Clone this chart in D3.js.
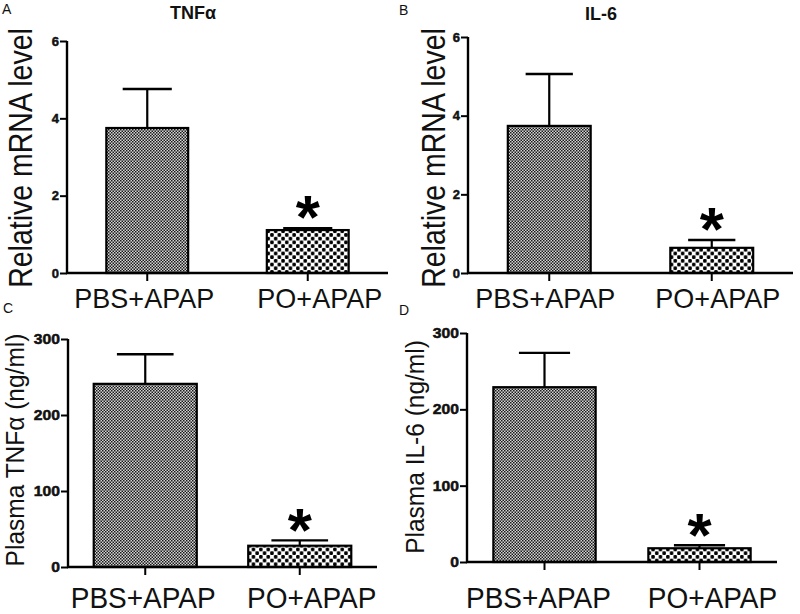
<!DOCTYPE html>
<html>
<head>
<meta charset="utf-8">
<script src="https://cdn.jsdelivr.net/npm/d3@7"></script>
<style>
  html, body { margin: 0; padding: 0; background: #fff; }
  svg { display: block; }
  text { font-family: "Liberation Sans", Arial, sans-serif; fill: #111; }
  text.ticklab { font-weight: 700; fill: #111; stroke: #111; stroke-width: 0.5px; }
</style>
</head>
<body>
<script>
// ---------- DATA ----------
const categories = ["PBS+APAP", "PO+APAP"];
const tnfMrna = [3.75, 1.11];
const tnfMrnaErr = [1.01, 0.05];
const il6Mrna = [3.74, 0.64];
const il6MrnaErr = [1.32, 0.20];
const tnfPlasma = [241, 28];
const tnfPlasmaErr = [39, 7];
const il6Plasma = [229, 18];
const il6PlasmaErr = [45, 4];
const mrnaTicks = [0, 2, 4, 6];
const plasmaTicks = [0, 100, 200, 300];
const significant = [false, true];
const panelLetters = ["A", "B", "C", "D"];
const panelTitles = ["TNFα", "IL-6", "", ""];
const yLabels = ["Relative mRNA level", "Relative mRNA level", "Plasma TNFα (ng/ml)", "Plasma IL-6 (ng/ml)"];

// ---------- LAYOUT ----------
const W = 800, H = 614;
const layouts = [
  { x0: 67, x1: 388, yTop: 41, yBot: 273, pad: 0.49, cap: 0.6, max: 6, ticks: mrnaTicks,
    letter: [2, 14], title: [193, 19], ylab: [32, 158, 28.5, 1.14], xlabY: 308, xlabF: 27, xlabSY: 1.02,
    xlabDx: [-3, 12], tickF: 13, tickSX: 1.0 },
  { x0: 468, x1: 793, yTop: 37, yBot: 273, pad: 0.49, cap: 0.57, max: 6, ticks: mrnaTicks,
    letter: [399, 15], title: [601, 20], ylab: [445, 158, 28.5, 1.14], xlabY: 308, xlabF: 27, xlabSY: 1.02,
    xlabDx: [-4, 6], tickF: 13, tickSX: 1.0 },
  { x0: 68, x1: 377, yTop: 339, yBot: 567, pad: 0.333, cap: 0.55, max: 300, ticks: plasmaTicks,
    letter: [3, 313], title: null, ylab: [24, 450, 24.5, 1.08], xlabY: 608, xlabF: 28, xlabSY: 1.08,
    xlabDx: [-2, 12], tickF: 14, tickSX: 1.12 },
  { x0: 467, x1: 777, yTop: 333, yBot: 562, pad: 0.34, cap: 0.5, max: 300, ticks: plasmaTicks,
    letter: [399, 315], title: null, ylab: [424, 447, 24.5, 1.08], xlabY: 608, xlabF: 28, xlabSY: 1.08,
    xlabDx: [-6, 13], tickF: 14, tickSX: 1.12 }
];
const panelValues = [tnfMrna, il6Mrna, tnfPlasma, il6Plasma];
const panelErrors = [tnfMrnaErr, il6MrnaErr, tnfPlasmaErr, il6PlasmaErr];

const svg = d3.select("body").append("svg").attr("width", W).attr("height", H);
svg.append("rect").attr("width", W).attr("height", H).attr("fill", "#fff");

// ---------- PATTERNS ----------
const defs = svg.append("defs");
const fine = defs.append("pattern").attr("id", "fine").attr("patternUnits", "userSpaceOnUse")
  .attr("width", 3).attr("height", 3);
fine.append("rect").attr("width", 3).attr("height", 3).attr("fill", "#d4d4d4");
fine.append("rect").attr("x", 0).attr("y", 0).attr("width", 1.5).attr("height", 1.5).attr("fill", "#1a1a1a");
fine.append("rect").attr("x", 1.5).attr("y", 1.5).attr("width", 1.5).attr("height", 1.5).attr("fill", "#1a1a1a");

const coarse = defs.append("pattern").attr("id", "coarse").attr("patternUnits", "userSpaceOnUse")
  .attr("width", 7.4).attr("height", 7.4);
coarse.append("rect").attr("width", 7.4).attr("height", 7.4).attr("fill", "#fff");
coarse.append("rect").attr("x", 0.1).attr("y", 0.1).attr("width", 3.5).attr("height", 3.5).attr("rx", 1.1).attr("fill", "#000");
coarse.append("rect").attr("x", 3.8).attr("y", 3.8).attr("width", 3.5).attr("height", 3.5).attr("rx", 1.1).attr("fill", "#000");
const fills = ["url(#fine)", "url(#coarse)"];

// ---------- PANELS ----------
layouts.forEach((L, i) => {
  const vals = panelValues[i], errs = panelErrors[i];
  const g = svg.append("g");

  const x = d3.scaleBand().domain(categories).range([L.x0, L.x1])
    .paddingInner(L.pad).paddingOuter(L.pad / 2);
  const y = d3.scaleLinear().domain([0, L.max]).range([L.yBot, L.yTop]);

  // bars
  g.selectAll("rect.bar").data(categories).join("rect")
    .attr("class", "bar")
    .attr("x", d => x(d))
    .attr("width", x.bandwidth())
    .attr("y", (d, j) => y(vals[j]))
    .attr("height", (d, j) => y(0) - y(vals[j]))
    .attr("fill", (d, j) => fills[j])
    .attr("stroke", "#000").attr("stroke-width", 2.2);

  // error bars (upper)
  const cx = d => x(d) + x.bandwidth() / 2;
  g.selectAll("line.err").data(categories).join("line")
    .attr("x1", cx).attr("x2", cx)
    .attr("y1", (d, j) => y(vals[j]))
    .attr("y2", (d, j) => y(vals[j] + errs[j]))
    .attr("stroke", "#000").attr("stroke-width", 2.2);
  g.selectAll("line.cap").data(categories).join("line")
    .attr("x1", d => cx(d) - x.bandwidth() * L.cap / 2)
    .attr("x2", d => cx(d) + x.bandwidth() * L.cap / 2)
    .attr("y1", (d, j) => y(vals[j] + errs[j]))
    .attr("y2", (d, j) => y(vals[j] + errs[j]))
    .attr("stroke", "#000").attr("stroke-width", 2.4);

  // significance asterisks
  const astF = 62;
  g.selectAll("text.ast").data(categories.filter((d, j) => significant[j])).join("text")
    .attr("x", cx)
    .attr("y", d => { const j = categories.indexOf(d); return y(vals[j] + errs[j]) - 25 + astF * 0.57; })
    .attr("text-anchor", "middle")
    .style("font-size", astF + "px").style("font-weight", "bold").style("fill", "#000")
    .text("*");

  // y axis (ticks only from axis; labels placed via the same scale)
  const yAxis = d3.axisLeft(y).tickValues(L.ticks).tickSize(7).tickFormat("");
  const ya = g.append("g").attr("transform", `translate(${L.x0},0)`).call(yAxis);
  ya.select(".domain").attr("stroke", "#000").attr("stroke-width", 2.4)
    .attr("d", `M0,${L.yTop}V${L.yBot}`);
  ya.selectAll(".tick line").attr("stroke", "#000").attr("stroke-width", 2);

  g.selectAll("text.ticklab").data(L.ticks).join("text")
    .attr("class", "ticklab")
    .attr("transform", d => `translate(${L.x0 - 8},${y(d) + L.tickF * 0.36}) scale(${L.tickSX},1)`)
    .attr("text-anchor", "end")
    .style("font-size", L.tickF + "px")
    .text(d => d3.format("d")(d));

  // x axis
  const xAxis = d3.axisBottom(x).tickSize(8).tickFormat("");
  const xa = g.append("g").attr("transform", `translate(0,${L.yBot})`).call(xAxis);
  xa.select(".domain").attr("stroke", "#000").attr("stroke-width", 2.4)
    .attr("d", `M${L.x0 - 1},0H${L.x1}`);
  xa.selectAll(".tick line").attr("stroke", "#000").attr("stroke-width", 2);

  // x category labels
  g.selectAll("text.xlab").data(categories).join("text")
    .attr("class", "xlab")
    .attr("transform", (d, j) => `translate(${cx(d) + L.xlabDx[j]},${L.xlabY}) scale(1,${L.xlabSY})`)
    .attr("text-anchor", "middle")
    .style("font-size", L.xlabF + "px")
    .text(d => d);

  // y axis label
  g.append("text")
    .attr("transform", `translate(${L.ylab[0]},${L.ylab[1]}) rotate(-90) scale(1,${L.ylab[3]})`)
    .attr("text-anchor", "middle")
    .style("font-size", L.ylab[2] + "px")
    .text(yLabels[i]);

  // title
  if (L.title) {
    g.append("text").attr("x", L.title[0]).attr("y", L.title[1])
      .attr("text-anchor", "middle")
      .style("font-size", "18px").style("font-weight", "bold")
      .text(panelTitles[i]);
  }

  // panel letter
  g.append("text").attr("x", L.letter[0]).attr("y", L.letter[1])
    .style("font-size", "14px")
    .text(panelLetters[i]);
});
</script>
</body>
</html>
